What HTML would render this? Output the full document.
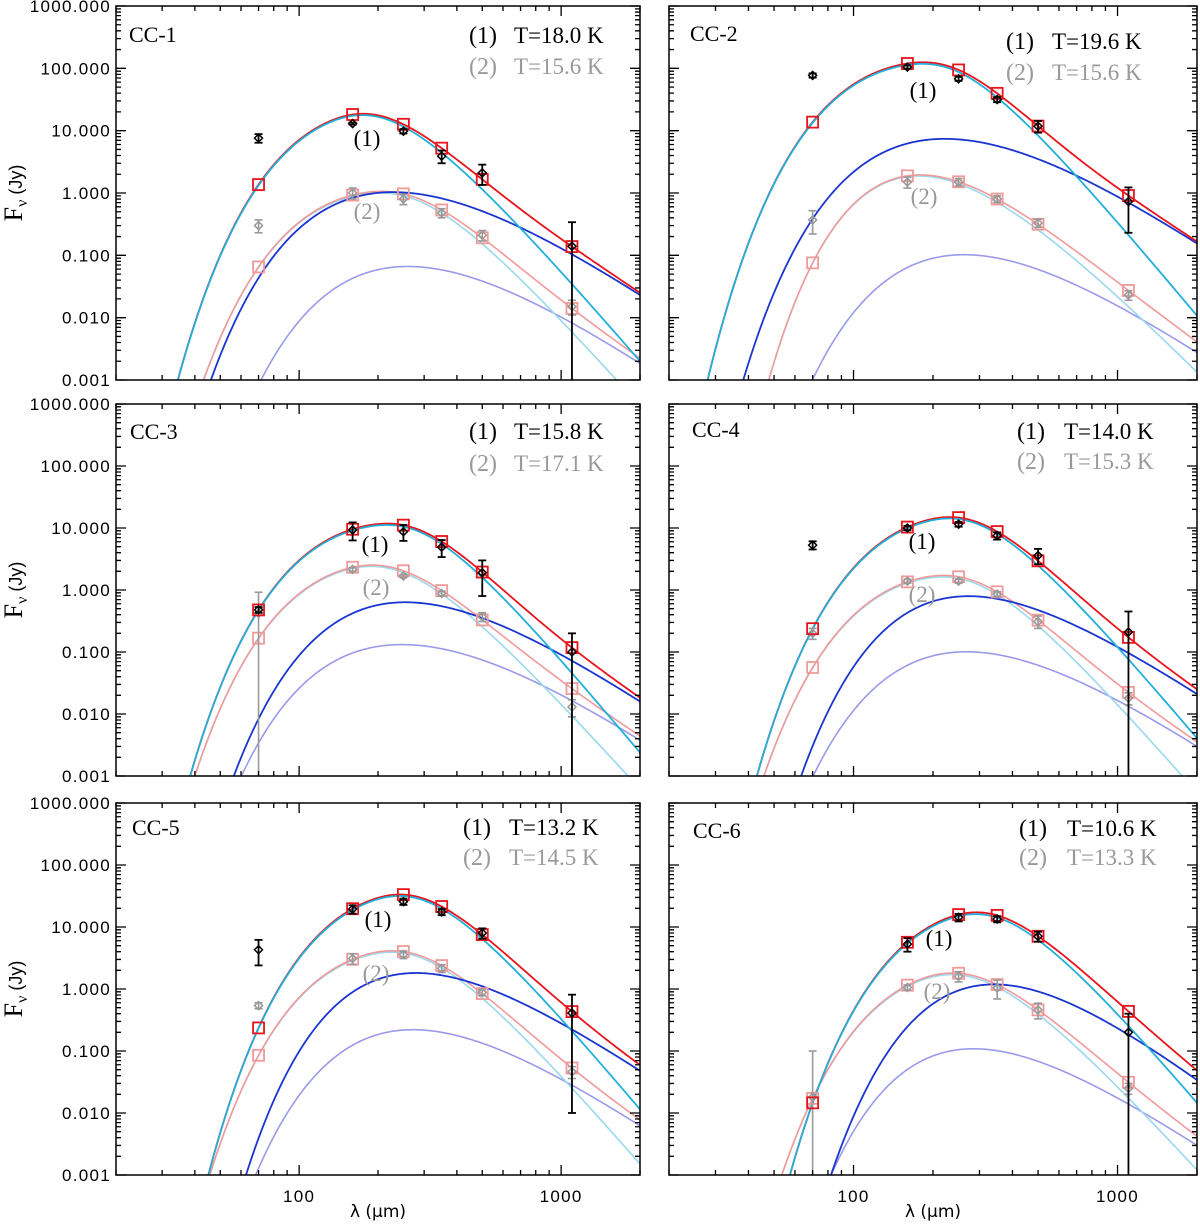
<!DOCTYPE html>
<html><head><meta charset="utf-8"><style>
html,body{margin:0;padding:0;background:#fff;overflow:hidden;width:1200px;height:1227px;}
svg{display:block;}
</style></head><body>
<svg id="chart" width="1200" height="1227" viewBox="0 0 1200 1227" xmlns="http://www.w3.org/2000/svg"></svg>
<script>
const panelNames = ["CC-1","CC-2","CC-3","CC-4","CC-5","CC-6"];
const temps1 = ["18.0","19.6","15.8","14.0","13.2","10.6"];
const temps2 = ["15.6","15.6","17.1","15.3","14.5","13.3"];
const bands = [70,160,250,350,500,1100];
const obs1 = [[7.6,13,9.8,3.9,2.1,0.14],[77,105,68,31.6,11.8,0.73],[0.48,9.3,8.7,4.9,1.9,0.1],[5.3,10,11.5,7.5,3.6,0.21],[4.3,19.4,25.7,17.5,8,0.41],[null,5.3,14.3,13.4,7.1,0.2]];
const err1 = [[1.2,0.5,0.8,0.9,0.75,0.2],[6,6,5,3,2.5,0.5],[0.05,3,2.5,1.5,1.1,0.1],[0.8,0.8,1,1,1,0.24],[1.9,3,3,2,1.5,0.4],[0,1.3,2,1.5,1.3,0.2]];
const obs2 = [[0.30,1.0,0.8,0.48,0.21,0.015],[0.37,1.5,1.5,0.8,0.33,0.023],[0.42,2.15,1.68,0.88,0.37,0.013],[0.2,1.39,1.39,0.86,0.31,0.018],[0.54,3.1,3.6,2.15,0.88,0.046],[0.018,1.06,1.6,1.04,0.46,0.025]];
const err2 = [[0.07,0.2,0.15,0.08,0.04,0.004],[0.15,0.3,0.2,0.1,0.05,0.004],[0.5,0.15,0.1,0.08,0.06,0.004],[0.04,0.1,0.1,0.08,0.07,0.004],[0.06,0.6,0.5,0.3,0.1,0.01],[0.082,0.1,0.3,0.35,0.13,0.005]];
const cyan1Pts = [
 [[36,0.001],[70,1.45],[120,11],[155,14.5],[250,9.3],[350,4.4],[500,1.6],[1100,0.036],[2000,0.002]],
 [[30,0.001],[70,21],[120,85],[160,100],[250,63],[350,29],[500,10],[1100,0.245],[2000,0.0093]],
 [[42,0.001],[70,0.48],[120,6.5],[180,10.2],[250,9],[350,4.8],[500,1.7],[1100,0.057],[2000,0.0021]],
 [[47,0.001],[70,0.27],[120,5.5],[160,9.5],[250,11.3],[350,7],[500,3.0],[1100,0.083],[2000,0.0037]],
 [[49,0.001],[70,0.29],[120,9],[160,18.5],[250,25],[350,16.5],[500,7.2],[1100,0.22],[2000,0.011]],
 [[63,0.001],[70,0.015],[160,5.8],[250,14.5],[350,13],[500,6.8],[1100,0.29],[2000,0.013]]];
const blue1Pts = [
 [[49,0.001],[100,0.33],[228,0.91],[1100,0.087],[2000,0.027]],
 [[40,0.001],[100,2.7],[196,6.4],[1100,0.61],[2000,0.17]],
 [[57,0.001],[70,0.008],[235,0.667],[1100,0.06],[2000,0.019]],
 [[63,0.001],[264,0.8],[1100,0.083],[2000,0.024]],
 [[63,0.001],[294,1.85],[1100,0.19],[2000,0.055]],
 [[81,0.001],[160,0.23],[330,1.2],[1100,0.18],[2000,0.036]]];
const cyan2Pts = [
 [[40,0.001],[70,0.05],[160,1.0],[250,0.82],[350,0.45],[500,0.18],[1100,0.006],[1700,0.001]],
 [[48,0.001],[70,0.082],[160,1.55],[250,1.4],[350,0.75],[500,0.31],[1100,0.0135],[1770,0.001]],
 [[43,0.001],[70,0.2],[160,2.1],[250,1.65],[350,0.85],[500,0.32],[1100,0.0082],[1800,0.001]],
 [[48,0.001],[70,0.06],[160,1.35],[250,1.35],[350,0.8],[500,0.29],[1100,0.0091],[1780,0.001]],
 [[50,0.001],[70,0.105],[160,3.0],[250,3.4],[350,2.0],[500,0.8],[1100,0.024],[1950,0.001]],
 [[57,0.001],[70,0.02],[160,1.05],[250,1.55],[350,1.0],[500,0.42],[1100,0.019],[1820,0.001]]];
const lav2Pts = [
 [[72,0.001],[228,0.067],[1100,0.0073],[2000,0.002]],
 [[70,0.001],[240,0.105],[1100,0.0106],[2000,0.0031]],
 [[61,0.001],[221,0.139],[1100,0.0138],[2000,0.0042]],
 [[70,0.001],[240,0.105],[1100,0.011],[2000,0.0034]],
 [[69,0.001],[255,0.23],[1100,0.023],[2000,0.0073]],
 [[84,0.001],[264,0.115],[1100,0.012],[2000,0.0033]]];
const yTickLabels = ["1000.000","100.000","10.000","1.000","0.100","0.010","0.001"];
const xTickLabels = ["100","1000"];

const NS="http://www.w3.org/2000/svg";
const svg=document.getElementById('chart');
function mk(tag,attrs,parent){const e=document.createElementNS(NS,tag);for(const k in attrs)e.setAttribute(k,attrs[k]);(parent||svg).appendChild(e);return e;}
const geo=[[116,640,6,380],[669,1197,6,380],[116,640,404,776],[669,1197,404,776],[116,640,803,1175],[669,1197,803,1175]];
const labelPos=[[[251,132],[251,205]],[[254,84],[255,190]],[[259,140],[260,183]],[[253,137],[253,190]],[[262,116],[260,170]],[[270,135],[268,188]]];
const hdr=[[13,36,353,398,37,68],[21,35,337,383,43,74],[14,35,353,398,35,67],[23,33,348,395,35,65],[16,32,347,393,32,62],[24,35,350,398,33,62]];

function gfunc(lam,c,b,l0){const x=c/lam;const t=Math.pow(l0/lam,b);return 3*Math.log10(x)-Math.log10(Math.expm1(x))+Math.log10(-Math.expm1(-t));}
function fit(pts){
  let best=null;
  const w=pts.map(p=>p[1]<=0.0011?0.08:1);
  const W=w.reduce((a,b)=>a+b,0);
  const ly=pts.map(p=>Math.log10(p[1]));
  for(let i=0;i<=110;i++){const c=100*Math.pow(40,i/110);
    for(let b=1;b<=4.01;b+=0.2){
      for(let k=0;k<=24;k++){const l0=30*Math.pow(60,k/24);
        const f=pts.map(p=>gfunc(p[0],c,b,l0));
        let s=0;for(let j=0;j<pts.length;j++)s+=w[j]*(ly[j]-f[j]);
        const la=s/W;let e=0;
        for(let j=0;j<pts.length;j++){const r=ly[j]-f[j]-la;e+=w[j]*r*r;}
        if(!best||e<best.e)best={e,c,b,l0,la};
      }}}
  return lam=>Math.pow(10,best.la+gfunc(lam,best.c,best.b,best.l0));
}

for(let p=0;p<6;p++){
  const [X0,X1,Y0,Y1]=geo[p];
  const xs=l=>X0+(X1-X0)*(Math.log10(l/20)/2);
  const ys=v=>Y0+(Y1-Y0)*((3-Math.log10(v))/6);
  const g=mk('g',{});
  
  
  const cid='clip'+p;
  const cp=mk('clipPath',{id:cid},g);mk('rect',{x:X0,y:Y0,width:X1-X0,height:Y1-Y0},cp);
  const plot=mk('g',{'clip-path':'url(#'+cid+')'},g);
  const f1=fit(cyan1Pts[p]),b1=fit(blue1Pts[p]),f2=fit(cyan2Pts[p]),b2=fit(lav2Pts[p]);
  const r1=l=>f1(l)+b1(l),r2=l=>f2(l)+b2(l);
  const curves=[[b2,'#9a9aea',1.6,'lavender-curve-2'],[f2,'#9ad8ee',1.6,'light-cyan-curve-2'],[r2,'#f09a9a',1.6,'pink-total-curve-2'],[b1,'#1a35d0',1.8,'blue-curve-1'],[r1,'#e8141c',1.8,'red-total-curve-1'],[f1,'#22b0da',1.8,'cyan-curve-1']];
  for(const [fn,col,w,nm] of curves){
    let d='';for(let i=0;i<=400;i++){const l=20*Math.pow(100,i/400);let v=fn(l);if(!(v>1e-5))v=1e-5;d+=(i?'L':'M')+xs(l).toFixed(2)+','+ys(v).toFixed(2);}
    const pa=mk('path',{d,fill:'none',stroke:col,'stroke-width':w},plot);
    
    
  }
  function errbar(v,e,i,col,w){
    const x=xs(bands[i]);const top=ys(v+e);const lo=v-e>0?ys(v-e):Y1+5;
    mk('line',{x1:x,y1:top,x2:x,y2:lo,stroke:col,'stroke-width':w},plot);
    mk('line',{x1:x-4,y1:top,x2:x+4,y2:top,stroke:col,'stroke-width':w},plot);
    if(v-e>0)mk('line',{x1:x-4,y1:lo,x2:x+4,y2:lo,stroke:col,'stroke-width':w},plot);
  }
  function diamond(v,i,col,nm){const x=xs(bands[i]),y=ys(v);const d=mk('path',{d:`M${x-4},${y}L${x},${y-4}L${x+4},${y}L${x},${y+4}Z`,fill:'none',stroke:col,'stroke-width':1.5},plot);
    
    }
  function square(v,i,col,nm){const x=xs(bands[i]),y=ys(v);const s=mk('rect',{x:x-5.5,y:y-5.5,width:11,height:11,fill:'none',stroke:col,'stroke-width':1.8},plot);
    
    }
  for(let i=0;i<6;i++){square(r2(bands[i]),i,'#f09a9a','model-square-2');}
  for(let i=0;i<6;i++){const v=obs2[p][i];if(v==null)continue;errbar(v,err2[p][i],i,'#999',1.6);diamond(v,i,'#999','obs-diamond-2');}
  for(let i=0;i<6;i++){square(r1(bands[i]),i,'#e8141c','model-square-1');}
  for(let i=0;i<6;i++){const v=obs1[p][i];if(v==null)continue;errbar(v,err1[p][i],i,'#000',1.8);diamond(v,i,'#000','obs-diamond-1');}
  const fr=mk('rect',{x:X0,y:Y0,width:X1-X0,height:Y1-Y0,fill:'none',stroke:'#000','stroke-width':1.5},g);
  
  
  let td='';
  for(let k=-3;k<=3;k++){for(let m=1;m<=9;m++){const v=m*Math.pow(10,k);if(v>1000)break;const y=ys(v);const L=m==1?10:5;td+=`M${X0},${y}h${L}M${X1},${y}h${-L}`;}}
  for(let k=1;k<=3;k++){for(let m=1;m<=9;m++){const l=m*Math.pow(10,k);if(l<20||l>2000)continue;const x=xs(l);const L=m==1?10:5;td+=`M${x},${Y1}v${-L}M${x},${Y0}v${L}`;}}
  mk('path',{d:td,stroke:'#000','stroke-width':1.3,fill:'none'},g);
  if(p%2==0){
    for(let k=0;k<7;k++){const t=mk('text',{x:X0-5,y:ys(Math.pow(10,3-k))+6,'text-anchor':'end','font-family':'Liberation Sans, sans-serif','font-size':17,'letter-spacing':'1.3'},g);t.textContent=yTickLabels[k];
      
      }
    const cy=(Y0+Y1)/2;
    const yt=mk('text',{x:0,y:0,transform:`translate(22,${cy}) rotate(-90)`,'text-anchor':'middle','font-family':'Liberation Serif, serif','font-size':26},g);
    
    
    yt.innerHTML='F<tspan font-size="16" dy="5">ν</tspan><tspan dy="-5" font-family="Liberation Sans, sans-serif" font-size="18"> (Jy)</tspan>';
  }
  if(p>=4){
    [100,1000].forEach((l,k)=>{const t=mk('text',{x:xs(l),y:Y1+27,'text-anchor':'middle','font-family':'Liberation Sans, sans-serif','font-size':17,'letter-spacing':'1.3'},g);t.textContent=xTickLabels[k];
      
      });
    const xt=mk('text',{x:(X0+X1)/2,y:Y1+42,'text-anchor':'middle','font-family':'DejaVu Sans, sans-serif','font-size':17},g);
    xt.textContent='λ (μm)';
    
    
  }
  const h=hdr[p];
  const tt=mk('text',{x:X0+h[0],y:Y0+h[1],'font-family':'Liberation Serif, serif','font-size':22},g);tt.textContent=panelNames[p];
  
  
  const a=mk('text',{x:X0+h[2],y:Y0+h[4],'font-family':'Liberation Serif, serif','font-size':24},g);a.textContent='(1)';
  
  
  const b=mk('text',{x:X0+h[3],y:Y0+h[4],'font-family':'Liberation Serif, serif','font-size':23},g);b.textContent='T='+temps1[p]+' K';
  
  
  const c=mk('text',{x:X0+h[2],y:Y0+h[5],fill:'#999','font-family':'Liberation Serif, serif','font-size':24},g);c.textContent='(2)';
  
  
  const d=mk('text',{x:X0+h[3],y:Y0+h[5],fill:'#999','font-family':'Liberation Serif, serif','font-size':23},g);d.textContent='T='+temps2[p]+' K';
  
  
  const l1=mk('text',{x:X0+labelPos[p][0][0],y:Y0+labelPos[p][0][1]+8,'text-anchor':'middle','font-family':'Liberation Serif, serif','font-size':23},g);l1.textContent='(1)';
  
  
  const l2=mk('text',{x:X0+labelPos[p][1][0],y:Y0+labelPos[p][1][1]+8,'text-anchor':'middle',fill:'#999','font-family':'Liberation Serif, serif','font-size':23},g);l2.textContent='(2)';
  
  
}
</script>
</body></html>
